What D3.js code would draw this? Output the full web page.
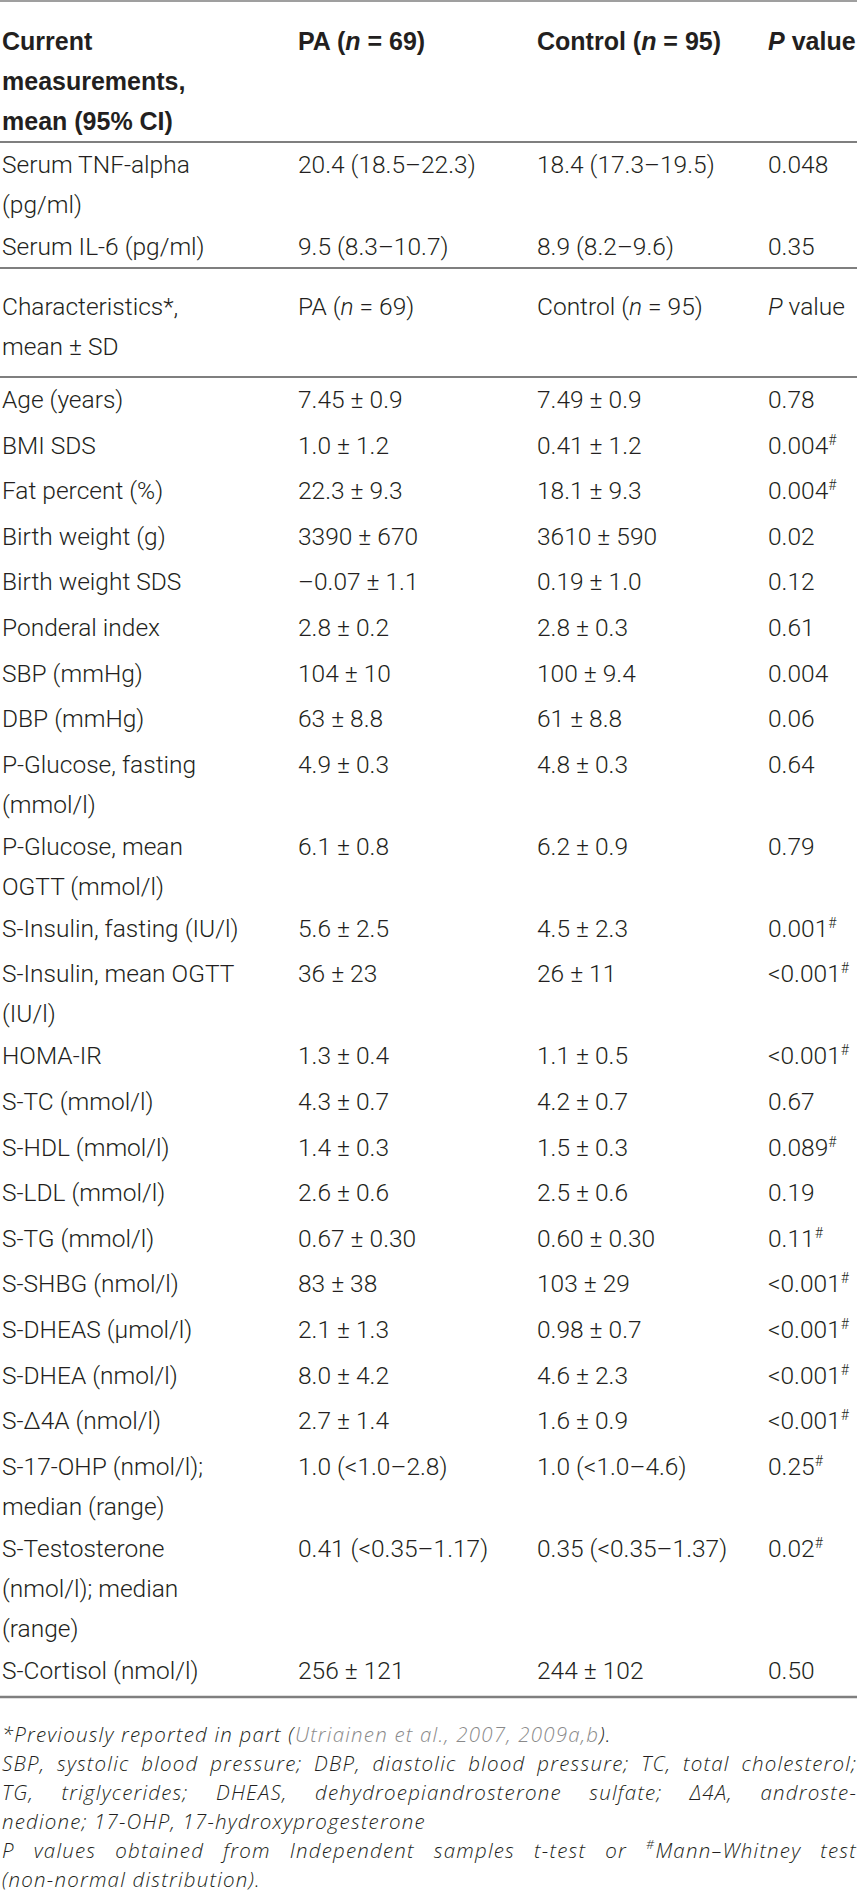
<!DOCTYPE html>
<html lang="en">
<head>
<meta charset="UTF-8">
<script src="https://d3js.org/d3.v7.min.js"></script>
<title>Table</title>
<style>
  html, body { margin: 0; padding: 0; background: #fff; }
  text { font-family: Roboto, "Liberation Sans", sans-serif; font-weight: 300; fill: #231f20; }
  text.head { font-family: "Liberation Sans", Roboto, sans-serif; font-weight: 700; }
  text.note { font-family: "Open Sans", Roboto, sans-serif; font-style: italic; font-weight: 300; }
</style>
</head>
<body>
<div id="container"></div>
<script>
// header rows
var headCurrent = [["Current", "measurements,", "mean (95% CI)"], ["PA (<i>n</i> = 69)"], ["Control (<i>n</i> = 95)"], ["<i>P</i> value"]];
var headChar = [["Characteristics*,", "mean ± SD"], ["PA (<i>n</i> = 69)"], ["Control (<i>n</i> = 95)"], ["<i>P</i> value"]];

// current measurements, mean (95% CI)
var currentLabels = [["Serum TNF-alpha", "(pg/ml)"], ["Serum IL-6 (pg/ml)"]];
var currentPA = ["20.4 (18.5–22.3)", "9.5 (8.3–10.7)"];
var currentControl = ["18.4 (17.3–19.5)", "8.9 (8.2–9.6)"];
var currentP = ["0.048", "0.35"];

// characteristics, mean ± SD
var charLabels = [
  ["Age (years)"], ["BMI SDS"], ["Fat percent (%)"], ["Birth weight (g)"], ["Birth weight SDS"],
  ["Ponderal index"], ["SBP (mmHg)"], ["DBP (mmHg)"], ["P-Glucose, fasting", "(mmol/l)"],
  ["P-Glucose, mean", "OGTT (mmol/l)"], ["S-Insulin, fasting (IU/l)"], ["S-Insulin, mean OGTT", "(IU/l)"],
  ["HOMA-IR"], ["S-TC (mmol/l)"], ["S-HDL (mmol/l)"], ["S-LDL (mmol/l)"], ["S-TG (mmol/l)"],
  ["S-SHBG (nmol/l)"], ["S-DHEAS (μmol/l)"], ["S-DHEA (nmol/l)"], ["S-Δ4A (nmol/l)"],
  ["S-17-OHP (nmol/l);", "median (range)"], ["S-Testosterone", "(nmol/l); median", "(range)"],
  ["S-Cortisol (nmol/l)"]
];
var charPA = ["7.45 ± 0.9", "1.0 ± 1.2", "22.3 ± 9.3", "3390 ± 670", "–0.07 ± 1.1", "2.8 ± 0.2", "104 ± 10",
  "63 ± 8.8", "4.9 ± 0.3", "6.1 ± 0.8", "5.6 ± 2.5", "36 ± 23", "1.3 ± 0.4", "4.3 ± 0.7", "1.4 ± 0.3",
  "2.6 ± 0.6", "0.67 ± 0.30", "83 ± 38", "2.1 ± 1.3", "8.0 ± 4.2", "2.7 ± 1.4", "1.0 (<1.0–2.8)",
  "0.41 (<0.35–1.17)", "256 ± 121"];
var charControl = ["7.49 ± 0.9", "0.41 ± 1.2", "18.1 ± 9.3", "3610 ± 590", "0.19 ± 1.0", "2.8 ± 0.3", "100 ± 9.4",
  "61 ± 8.8", "4.8 ± 0.3", "6.2 ± 0.9", "4.5 ± 2.3", "26 ± 11", "1.1 ± 0.5", "4.2 ± 0.7", "1.5 ± 0.3",
  "2.5 ± 0.6", "0.60 ± 0.30", "103 ± 29", "0.98 ± 0.7", "4.6 ± 2.3", "1.6 ± 0.9", "1.0 (<1.0–4.6)",
  "0.35 (<0.35–1.37)", "244 ± 102"];
var charP = ["0.78", "0.004", "0.004", "0.02", "0.12", "0.61", "0.004", "0.06", "0.64", "0.79", "0.001",
  "<0.001", "<0.001", "0.67", "0.089", "0.19", "0.11", "<0.001", "<0.001", "<0.001", "<0.001", "0.25",
  "0.02", "0.50"];
// # = Mann–Whitney test
var charMW = [0, 1, 1, 0, 0, 0, 0, 0, 0, 0, 1, 1, 1, 0, 1, 0, 1, 1, 1, 1, 1, 1, 1, 0];

// footnote lines, j = justified
var notes = [
  {t: "*Previously reported in part (<g>Utriainen et al., 2007, 2009a,b</g>).", j: false},
  {t: "SBP, systolic blood pressure; DBP, diastolic blood pressure; TC, total cholesterol;", j: true},
  {t: "TG, triglycerides; DHEAS, dehydroepiandrosterone sulfate; Δ4A, androste-", j: true},
  {t: "nedione; 17-OHP, 17-hydroxyprogesterone", j: false},
  {t: "<i>P</i> values obtained from Independent samples t-test or <sup>#</sup>Mann–Whitney test", j: true},
  {t: "(non-normal distribution).", j: false}
];

var width = 859, height = 1901;
var svg = d3.select("#container").append("svg")
  .attr("width", width).attr("height", height);

// column positions
var x = d3.scaleOrdinal().domain(["label", "pa", "control", "p"]).range([2, 298, 537, 768]);
var lineH = 40;
function pitch(lines) { return lines === 1 ? 45.6 : 42 + lineH * (lines - 1); }

// write text with small markup: <i>, <g> (grey), <sup>; a bare "<" is kept as text
function rich(sel, str, supSize) {
  var re = /<(i|g|sup)>(.*?)<\/\1>|(<|[^<]+)/g, m, shifted = 0;
  while ((m = re.exec(str))) {
    var tag = m[1], t = sel.append("tspan").text(tag ? m[2] : m[3]);
    var dy = 0;
    if (shifted) { dy += shifted; shifted = 0; }
    if (tag === "sup") { dy -= 9; shifted = 9; t.attr("font-size", supSize || 14); }
    if (tag === "i") t.attr("font-style", "italic");
    if (tag === "g") t.style("fill", "#8a8a8a");
    if (dy) t.attr("dy", dy);
  }
}

function cell(key, y, lines, cls) {
  lines.forEach(function (s, k) {
    var t = svg.append("text").attr("class", cls || null)
      .attr("x", x(key)).attr("y", y + k * lineH).attr("font-size", cls === "head" ? 25 : 24.5);
    rich(t, s);
  });
}

function rule(y, w) {
  svg.append("line").attr("x1", 0).attr("x2", 857).attr("y1", y).attr("y2", y)
    .attr("stroke", "#7f7f7f").attr("stroke-width", w || 2);
}

function section(y0, labels, pa, ctl, p, mw) {
  var y = y0;
  labels.forEach(function (lab, i) {
    cell("label", y, lab);
    cell("pa", y, [pa[i]]);
    cell("control", y, [ctl[i]]);
    cell("p", y, [p[i] + (mw && mw[i] ? "<sup>#</sup>" : "")]);
    y += pitch(lab.length);
  });
}

// top rule and bold header
rule(1, 1.5);
["label", "pa", "control", "p"].forEach(function (k, i) { cell(k, 50, headCurrent[i], "head"); });
rule(142);

section(173, currentLabels, currentPA, currentControl, currentP, null);
rule(268);

["label", "pa", "control", "p"].forEach(function (k, i) { cell(k, 315, headChar[i]); });
rule(377);

section(408, charLabels, charPA, charControl, charP, charMW);
rule(1697, 2.5);

// footnotes: letter spacing so the unjustified 4th line is as wide as in the print
var noteSize = 20.5;
var probe = svg.append("text").attr("class", "note").attr("font-size", noteSize).text(notes[3].t);
var noteTrack = Math.max(0, Math.min(1.2, (450 - probe.node().getComputedTextLength()) / notes[3].t.length));
probe.remove();

notes.forEach(function (n, i) {
  var t = svg.append("text").attr("class", "note")
    .attr("x", 2).attr("y", 1742 + i * 29).attr("font-size", noteSize)
    .style("letter-spacing", noteTrack + "px");
  rich(t, n.t, 13);
  if (n.j) {
    var nat = t.node().getComputedTextLength();
    var spaces = (n.t.replace(/<[^>]+>/g, "").match(/ /g) || []).length;
    t.style("word-spacing", Math.max(0, (855 - nat) / spaces) + "px");
  }
});
</script>
</body>
</html>
